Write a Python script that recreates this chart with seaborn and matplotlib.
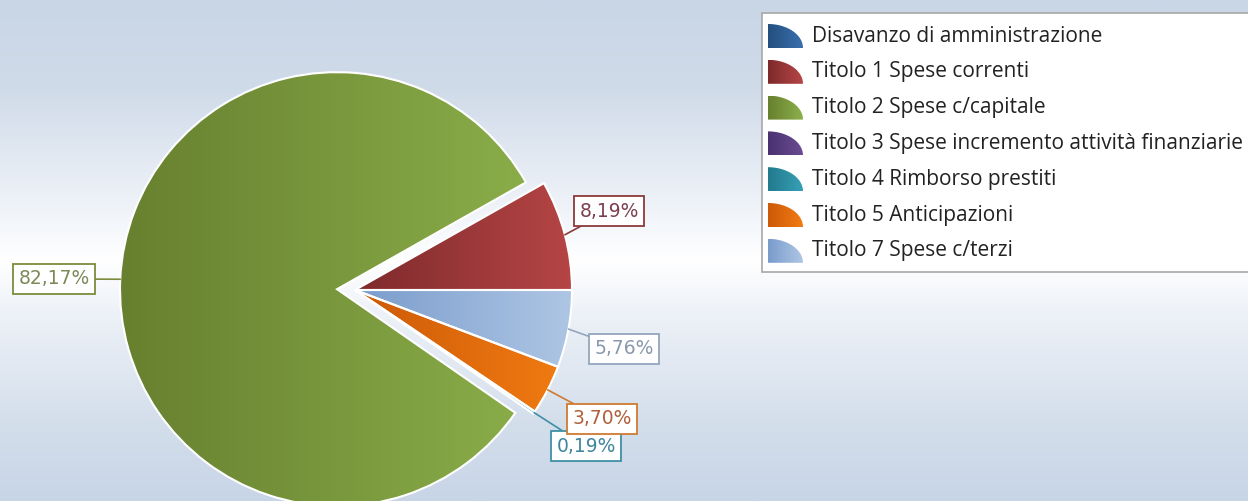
import numpy as np
import matplotlib
matplotlib.use("Agg")
import matplotlib.pyplot as plt
import matplotlib.colors as mcolors
from matplotlib.patches import Polygon, Rectangle
import seaborn as sns

# data
categories = [
    "Disavanzo di amministrazione",
    "Titolo 1 Spese correnti",
    "Titolo 2 Spese c/capitale",
    "Titolo 3 Spese incremento attività finanziarie",
    "Titolo 4 Rimborso prestiti",
    "Titolo 5 Anticipazioni",
    "Titolo 7 Spese c/terzi",
]
shares = [0.0, 8.19, 82.17, 0.0, 0.19, 3.70, 5.76]

# colours: (dark, light) for the horizontal shading of each slice
dark_colors = ["#23507f", "#7e2a2c", "#67802f", "#4a3270", "#237a8e", "#cc5a08", "#7a9ccc"]
light_colors = ["#3a6fae", "#b64545", "#8cb04b", "#6a4c92", "#36a0b6", "#f27c12", "#aec6e4"]
label_text_colors = ["#3a5a80", "#7a4050", "#7c8a58", "#5a4a78", "#3f869c", "#b0603a", "#8a98ac"]
label_edge_colors = ["#2f5f95", "#8b3a3a", "#7b8c3c", "#5b3f7e", "#3f8fa5", "#d07a30", "#93a6be"]

sns.set_style("white")
plt.rcParams["font.family"] = ["DejaVu Sans"]

W, H = 1248, 501
fig = plt.figure(figsize=(W / 100, H / 100), dpi=100)
ax = fig.add_axes([0, 0, 1, 1])

# background: blue-grey at top and bottom, white band in the middle
stops = [(0.0, "#c9d6e6"), (0.18, "#d0dbe9"), (0.45, "#f4f7fb"), (0.52, "#ffffff"),
         (0.62, "#eef2f8"), (0.85, "#d3deeb"), (1.0, "#c8d5e7")]
bg_cmap = mcolors.LinearSegmentedColormap.from_list("bg", stops)
grad = np.linspace(0, 1, 256).reshape(-1, 1)
ax.imshow(grad, cmap=bg_cmap, extent=[0, W, 0, H], origin="upper", aspect="auto", zorder=0)

center = (355, 211)
radius = 217
explode = [0, 0, 18, 0, 0, 0, 0]

wedges, _ = ax.pie(
    shares, colors=light_colors, startangle=0, counterclock=True,
    radius=radius, center=center, explode=explode,
    wedgeprops=dict(edgecolor="white", linewidth=1.5, zorder=2),
)

# horizontal shading clipped to each slice
for w, v, c0, c1 in zip(wedges, shares, dark_colors, light_colors):
    if v <= 0:
        continue
    cx, cy = w.center
    x0 = cx - radius if v > 50 else cx
    x1 = cx + radius
    cm = mcolors.LinearSegmentedColormap.from_list("s", [c0, c1])
    im = ax.imshow(np.linspace(0, 1, 256).reshape(1, -1), cmap=cm,
                   extent=[x0, x1, cy - radius, cy + radius], aspect="auto", zorder=2.5)
    im.set_clip_path(w)
    w.set_facecolor("none")
    w.set_zorder(3)

# percentage labels with leader lines
label_pos = {1: (609, 290), 2: (54, 222), 4: (586, 55), 5: (602, 82), 6: (624, 152)}
for i, (w, v) in enumerate(zip(wedges, shares)):
    if v <= 0:
        continue
    mid = np.deg2rad((w.theta1 + w.theta2) / 2)
    cx, cy = w.center
    xy = (cx + radius * np.cos(mid), cy + radius * np.sin(mid))
    txt = f"{v:.2f}%".replace(".", ",")
    ax.annotate(
        txt, xy=xy, xytext=label_pos[i], ha="center", va="center",
        fontsize=13.5, color=label_text_colors[i], zorder=5,
        bbox=dict(boxstyle="square,pad=0.28", fc="white", ec=label_edge_colors[i], lw=1.3),
        arrowprops=dict(arrowstyle="-", color=label_edge_colors[i], lw=1.2,
                        shrinkA=0, shrinkB=0),
    )

# legend drawn as a box with quarter-pie markers
ax.add_patch(Rectangle((762, 229), 520, 259, fc="white", ec="#a8a8a8", lw=1.2, zorder=4))
t = np.linspace(0, np.pi / 2, 30)
for i, (name, c0, c1) in enumerate(zip(categories, dark_colors, light_colors)):
    yc = H - (36 + i * 35.8)
    bx, by = 768, yc - 12
    pts = np.vstack([[bx, by], np.column_stack([bx + 35 * np.cos(t), by + 24 * np.sin(t)])])
    poly = Polygon(pts, closed=True, fc="none", ec="none", zorder=5)
    ax.add_patch(poly)
    cm = mcolors.LinearSegmentedColormap.from_list("l", [c0, c1])
    im = ax.imshow(np.linspace(0, 1, 64).reshape(1, -1), cmap=cm,
                   extent=[bx, bx + 35, by, by + 24], aspect="auto", zorder=5)
    im.set_clip_path(poly)
    ax.text(812, yc, name, fontsize=15, color="#222222", va="center", ha="left",
            zorder=6, family=["Open Sans", "DejaVu Sans"])

ax.set_xlim(0, W)
ax.set_ylim(0, H)
ax.set_aspect("auto")
ax.axis("off")

fig.savefig("out.png", dpi=100)
